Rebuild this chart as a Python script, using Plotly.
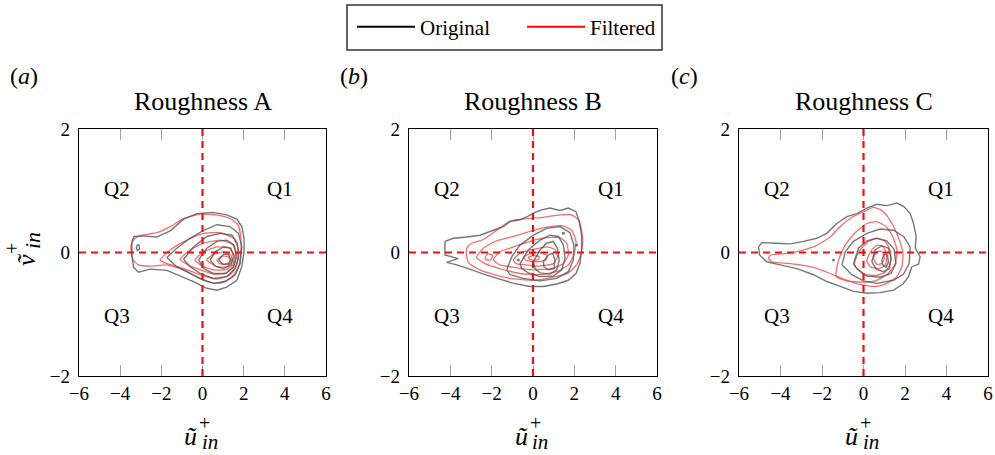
import plotly.graph_objects as go

# ---------------- data ----------------
x_ticks = [-6, -4, -2, 0, 2, 4, 6]
y_ticks = [-2, 0, 2]
panel_titles = ["Roughness A", "Roughness B", "Roughness C"]
panel_letters = ["a", "b", "c"]
series_names = ["Original", "Filtered"]
quadrant_labels = ["Q1", "Q2", "Q3", "Q4"]
quadrant_x = [3.75, -4.15, -4.15, 3.75]
quadrant_y = [1.03, 1.03, -1.03, -1.03]

# Panel A – original contours (x, y)
a_original = [
    [(-3.43, 0.18), (-3.32, 0.26), (-2.95, 0.27), (-2.22, 0.25), (-1.57, 0.35), (-0.92, 0.54),
     (-0.28, 0.63), (0.53, 0.65), (1.18, 0.61), (1.67, 0.54), (1.91, 0.42), (2.02, 0.23),
     (2.02, 0.01), (1.91, -0.23), (1.67, -0.45), (1.18, -0.56), (0.70, -0.61), (0.21, -0.58),
     (-0.44, -0.47), (-1.09, -0.38), (-1.73, -0.29), (-2.54, -0.27), (-3.11, -0.32),
     (-3.35, -0.24), (-3.43, -0.04)],
    [(-1.73, -0.08), (-1.25, 0.07), (-0.60, 0.23), (0.05, 0.36), (0.70, 0.45), (1.34, 0.42),
     (1.75, 0.31), (1.91, 0.09), (1.83, -0.18), (1.59, -0.36), (1.10, -0.47), (0.53, -0.50),
     (0.05, -0.45), (-0.60, -0.34), (-1.25, -0.23)],
    [(-0.92, -0.11), (-0.44, 0.09), (0.21, 0.26), (0.86, 0.31), (1.43, 0.28), (1.70, 0.15),
     (1.75, -0.07), (1.59, -0.26), (1.18, -0.39), (0.53, -0.42), (-0.11, -0.34), (-0.60, -0.23)],
    [(-0.19, -0.12), (0.21, 0.07), (0.70, 0.18), (1.18, 0.20), (1.54, 0.12), (1.64, -0.07),
     (1.51, -0.24), (1.10, -0.34), (0.53, -0.34), (0.05, -0.26)],
    [(0.37, -0.12), (0.62, 0.01), (1.02, 0.09), (1.38, 0.07), (1.51, -0.07), (1.39, -0.20),
     (1.02, -0.26), (0.62, -0.22)],
    [(0.78, -0.12), (1.02, -0.03), (1.26, -0.03), (1.38, -0.12), (1.26, -0.19), (0.99, -0.19)],
    [(-3.22, 0.10), (-3.10, 0.13), (-3.05, 0.06), (-3.17, 0.03)],
]
# Panel A – filtered contours
a_filtered = [
    [(-3.48, 0.12), (-3.27, 0.23), (-2.95, 0.28), (-2.22, 0.32), (-1.57, 0.42), (-0.92, 0.55),
     (-0.11, 0.62), (0.70, 0.61), (1.34, 0.55), (1.72, 0.45), (1.86, 0.26), (1.86, 0.01),
     (1.75, -0.23), (1.43, -0.40), (0.86, -0.50), (0.29, -0.47), (-0.28, -0.39), (-0.92, -0.28),
     (-1.73, -0.20), (-2.54, -0.22), (-3.11, -0.20), (-3.38, -0.12)],
    [(-2.06, -0.12), (-1.57, 0.04), (-0.76, 0.20), (0.05, 0.31), (0.86, 0.32), (1.51, 0.23),
     (1.75, 0.04), (1.67, -0.20), (1.34, -0.36), (0.70, -0.43), (-0.11, -0.36), (-1.09, -0.24),
     (-1.73, -0.18)],
    [(-1.09, -0.11), (-0.60, 0.04), (0.05, 0.15), (0.86, 0.20), (1.43, 0.14), (1.64, -0.01),
     (1.54, -0.20), (1.18, -0.33), (0.53, -0.35), (-0.19, -0.27), (-0.76, -0.19)],
    [(-0.36, -0.12), (0.05, 0.01), (0.70, 0.09), (1.26, 0.08), (1.54, -0.04), (1.47, -0.20),
     (1.10, -0.28), (0.53, -0.28), (-0.03, -0.22)],
    [(0.21, -0.12), (0.53, -0.03), (1.02, 0.01), (1.38, -0.04), (1.43, -0.15), (1.18, -0.23),
     (0.70, -0.23)],
    [(0.70, -0.12), (0.94, -0.06), (1.26, -0.07), (1.34, -0.15), (1.10, -0.19), (0.83, -0.18)],
]

# Panel B – original contours
b_original = [
    [(-4.26, 0.18), (-3.85, 0.23), (-3.21, 0.25), (-2.56, 0.28), (-1.92, 0.36), (-1.44, 0.42),
     (-1.11, 0.50), (-0.63, 0.53), (-0.23, 0.59), (0.10, 0.65), (0.42, 0.69), (0.82, 0.72),
     (1.31, 0.68), (1.71, 0.72), (2.08, 0.66), (2.24, 0.50), (2.35, 0.28), (2.35, 0.04),
     (2.27, -0.18), (2.08, -0.34), (1.71, -0.45), (1.15, -0.51), (0.50, -0.55), (-0.15, -0.55),
     (-0.95, -0.50), (-1.76, -0.42), (-2.40, -0.35), (-3.05, -0.27), (-3.69, -0.20),
     (-4.18, -0.16), (-3.62, -0.10), (-4.26, -0.04)],
    [(-1.27, -0.28), (-1.03, -0.07), (-0.63, 0.12), (0.02, 0.28), (0.66, 0.39), (1.31, 0.42),
     (1.79, 0.32), (1.98, 0.12), (1.95, -0.12), (1.71, -0.31), (1.15, -0.42), (0.34, -0.46),
     (-0.47, -0.42), (-1.11, -0.36)],
    [(-0.63, -0.18), (-0.23, 0.04), (0.34, 0.20), (0.82, 0.28), (1.23, 0.26), (1.47, 0.12),
     (1.55, -0.09), (1.39, -0.28), (0.98, -0.38), (0.34, -0.39), (-0.23, -0.33), (-0.55, -0.26)],
    [(0.02, -0.15), (0.34, 0.04), (0.66, 0.15), (0.98, 0.18), (1.18, 0.07), (1.27, -0.12),
     (1.15, -0.28), (0.82, -0.35), (0.34, -0.33), (0.10, -0.26)],
    [(0.50, -0.15), (0.74, -0.04), (0.95, -0.01), (1.06, -0.12), (1.02, -0.26), (0.74, -0.28),
     (0.53, -0.23)],
]
b_filtered = [
    [(-3.21, 0.07), (-2.97, 0.15), (-2.40, 0.21), (-1.76, 0.36), (-1.11, 0.51), (-0.31, 0.55),
     (0.50, 0.57), (1.31, 0.61), (1.87, 0.61), (2.19, 0.53), (2.35, 0.36), (2.40, 0.15),
     (2.31, -0.04), (2.11, -0.20), (1.71, -0.33), (0.98, -0.40), (0.02, -0.45), (-1.11, -0.42),
     (-2.08, -0.34), (-2.81, -0.24), (-3.13, -0.16), (-3.21, -0.06)],
    [(-2.73, -0.08), (-2.40, 0.07), (-1.76, 0.19), (-0.95, 0.26), (0.02, 0.36), (0.82, 0.42),
     (1.47, 0.43), (1.87, 0.36), (2.08, 0.18), (1.98, -0.04), (1.71, -0.20), (1.15, -0.31),
     (0.34, -0.36), (-0.63, -0.34), (-1.60, -0.26), (-2.32, -0.18)],
    [(-2.32, -0.08), (-2.16, -0.02), (-1.95, -0.05), (-2.05, -0.12), (-2.24, -0.12)],
    [(-1.92, -0.12), (-1.60, 0.01), (-0.95, 0.09), (-0.15, 0.18), (0.66, 0.24), (1.31, 0.24),
     (1.63, 0.15), (1.71, -0.04), (1.47, -0.18), (0.90, -0.26), (0.02, -0.28), (-0.95, -0.24),
     (-1.60, -0.20)],
    [(-0.95, -0.12), (-0.63, -0.01), (0.02, 0.05), (0.66, 0.09), (1.06, 0.05), (1.18, -0.07),
     (0.98, -0.18), (0.34, -0.22), (-0.39, -0.20), (-0.82, -0.18)],
    [(-0.47, -0.08), (-0.15, -0.02), (0.34, 0.00), (0.66, -0.04), (0.63, -0.12), (0.18, -0.15),
     (-0.31, -0.13)],
    [(-0.23, -0.08), (0.02, -0.05), (0.31, -0.07), (0.21, -0.12), (-0.11, -0.12)],
]

# Panel C – original contours
c_original = [
    [(-5.06, 0.09), (-4.90, 0.16), (-4.18, 0.15), (-3.53, 0.14), (-2.89, 0.18), (-2.25, 0.23),
     (-1.77, 0.31), (-1.29, 0.47), (-0.80, 0.58), (-0.32, 0.63), (0.16, 0.72), (0.64, 0.78),
     (1.12, 0.76), (1.61, 0.80), (1.96, 0.74), (2.25, 0.63), (2.41, 0.47), (2.54, 0.26),
     (2.49, 0.07), (2.73, -0.07), (2.65, -0.19), (2.33, -0.23), (2.17, -0.39), (1.90, -0.51),
     (1.45, -0.61), (0.80, -0.65), (0.16, -0.66), (-0.48, -0.63), (-1.12, -0.55), (-1.77, -0.47),
     (-2.41, -0.36), (-3.21, -0.26), (-4.02, -0.20), (-4.66, -0.15), (-5.01, -0.04)],
    [(-1.04, -0.20), (-0.88, 0.01), (-0.48, 0.18), (0.16, 0.31), (0.80, 0.38), (1.45, 0.36),
     (1.93, 0.26), (2.25, 0.09), (2.20, -0.18), (1.93, -0.35), (1.45, -0.45), (0.64, -0.50),
     (0.00, -0.46), (-0.56, -0.36)],
    [(-0.48, -0.18), (-0.24, 0.07), (0.16, 0.19), (0.64, 0.23), (1.12, 0.19), (1.48, 0.05),
     (1.56, -0.18), (1.32, -0.34), (0.80, -0.40), (0.16, -0.38), (-0.29, -0.27)],
    [(0.40, -0.15), (0.56, 0.04), (0.88, 0.11), (1.20, 0.07), (1.33, -0.09), (1.25, -0.26),
     (0.96, -0.31), (0.61, -0.27)],
    [(0.88, -0.12), (1.00, -0.03), (1.16, -0.04), (1.20, -0.16), (1.09, -0.24), (0.93, -0.20)],
]
c_filtered = [
    [(-4.58, -0.09), (-4.47, -0.04), (-3.53, -0.01), (-2.41, 0.09), (-1.61, 0.25), (-1.12, 0.42),
     (-0.56, 0.57), (0.00, 0.66), (0.48, 0.73), (0.84, 0.69), (1.16, 0.58), (1.45, 0.42),
     (1.73, 0.20), (1.90, -0.01), (1.85, -0.23), (1.61, -0.39), (1.12, -0.50), (0.64, -0.55),
     (0.00, -0.53), (-0.80, -0.45), (-1.61, -0.34), (-2.41, -0.24), (-3.53, -0.18), (-4.42, -0.15)],
    [(-1.32, -0.39), (-1.20, -0.12), (-0.88, 0.12), (-0.40, 0.32), (0.16, 0.47), (0.64, 0.50),
     (1.09, 0.42), (1.41, 0.26), (1.61, 0.04), (1.53, -0.18), (1.20, -0.34), (0.64, -0.45),
     (0.00, -0.48), (-0.80, -0.46)],
    [(-0.45, -0.20), (-0.19, 0.03), (0.24, 0.18), (0.64, 0.23), (1.04, 0.18), (1.29, 0.03),
     (1.29, -0.18), (1.04, -0.32), (0.61, -0.37), (0.00, -0.35)],
    [(0.16, -0.13), (0.39, 0.04), (0.67, 0.12), (0.96, 0.09), (1.12, -0.04), (1.06, -0.20),
     (0.74, -0.26), (0.32, -0.23)],
    [(0.48, -0.09), (0.64, 0.01), (0.88, 0.02), (1.01, -0.09), (0.88, -0.18), (0.64, -0.19)],
]

# isolated tiny closed contours drawn as dots (x, y)
b_original_dots = [(1.47, 0.31), (2.11, 0.12), (-0.71, -0.12)]
c_original_dots = [(-1.45, -0.12)]

# ---------------- figure ----------------
W, H = 995, 455
FONT = "Liberation Serif, Times New Roman, serif"
GREY = "rgba(85,85,85,0.8)"
RED = "rgba(240,75,75,0.8)"

# panel frames in pixels (left, right, top, bottom)
frames = [(79, 326, 129, 376), (409, 657, 129, 376), (739, 988, 129, 376)]
legend_box = (347, 662, 5, 50)


def px_x(p):
    return p / W


def px_y(p):
    return 1 - p / H


def text_at(x, y, text, size, angle=0):
    fig.add_annotation(x=px_x(x), y=px_y(y), xref="paper", yref="paper", text=text,
                       showarrow=False, xanchor="center", yanchor="middle", textangle=angle,
                       font=dict(family=FONT, size=size, color="black"))


fig = go.Figure()

panels = [
    (a_original, a_filtered, []),
    (b_original, b_filtered, b_original_dots),
    (c_original, c_filtered, c_original_dots),
]

for i, (orig, filt, dots) in enumerate(panels):
    xa = "x" if i == 0 else f"x{i + 1}"
    ya = "y" if i == 0 else f"y{i + 1}"
    for contour in filt:
        pts = contour + [contour[0]]
        fig.add_trace(go.Scatter(
            x=[p[0] for p in pts], y=[p[1] for p in pts], mode="lines",
            line=dict(color=RED, width=1.3, shape="spline", smoothing=0.5),
            xaxis=xa, yaxis=ya, showlegend=False, hoverinfo="skip"))
    for contour in orig:
        pts = contour + [contour[0]]
        fig.add_trace(go.Scatter(
            x=[p[0] for p in pts], y=[p[1] for p in pts], mode="lines",
            line=dict(color=GREY, width=1.4),
            xaxis=xa, yaxis=ya, showlegend=False, hoverinfo="skip"))
    if dots:
        fig.add_trace(go.Scatter(
            x=[p[0] for p in dots], y=[p[1] for p in dots], mode="markers",
            marker=dict(color=GREY, size=3),
            xaxis=xa, yaxis=ya, showlegend=False, hoverinfo="skip"))
    # quadrant labels
    for lab, qx, qy in zip(quadrant_labels, quadrant_x, quadrant_y):
        fig.add_annotation(x=qx, y=qy, xref=xa, yref=ya, text=lab, showarrow=False,
                           xanchor="center", yanchor="middle",
                           font=dict(family=FONT, size=21, color="black"))
    # dashed quadrant dividers
    fig.add_shape(type="line", xref=f"{xa} domain", yref=ya, x0=0, x1=1, y0=0, y1=0,
                  line=dict(color="#ee1111", width=2.2, dash="7px,5px"), layer="above")
    fig.add_shape(type="line", xref=xa, yref=f"{ya} domain", x0=0, x1=0, y0=0, y1=1,
                  line=dict(color="#ee1111", width=2.2, dash="7px,5px"), layer="above")

# legend entries
for name, col in zip(series_names, ["black", "red"]):
    fig.add_trace(go.Scatter(x=[None], y=[None], mode="lines", name=name,
                             line=dict(color=col, width=2), showlegend=True))

# legend frame
fig.add_shape(type="rect", xref="paper", yref="paper",
              x0=px_x(legend_box[0]), x1=px_x(legend_box[1]),
              y0=px_y(legend_box[3]), y1=px_y(legend_box[2]),
              line=dict(color="#333", width=1.5), fillcolor="rgba(0,0,0,0)", layer="above")

layout = dict(
    template="none",
    width=W, height=H,
    margin=dict(l=0, r=0, t=0, b=0, autoexpand=False),
    paper_bgcolor="white", plot_bgcolor="white",
    font=dict(family=FONT, size=18, color="black"),
    showlegend=True,
    legend=dict(orientation="h", x=px_x(352), y=px_y(27), xanchor="left", yanchor="middle",
                borderwidth=0, bgcolor="rgba(0,0,0,0)",
                font=dict(family=FONT, size=21), entrywidth=97, itemwidth=58,
                tracegroupgap=0),
)

for i, (l, r, t, b) in enumerate(frames):
    sx = "" if i == 0 else str(i + 1)
    layout[f"xaxis{sx}"] = dict(
        domain=[px_x(l), px_x(r)], anchor=f"y{sx}", range=[-6, 6], automargin=False,
        tickvals=x_ticks, ticktext=[f"{v}".replace("-", "\u2212") for v in x_ticks],
        ticks="inside", ticklen=11, tickwidth=1.2, tickcolor="#a0a0a0",
        showline=True, linecolor="black", linewidth=1.3, mirror="ticks",
        showgrid=False, zeroline=False, fixedrange=True,
        tickfont=dict(family=FONT, size=19))
    layout[f"yaxis{sx}"] = dict(
        domain=[px_y(b), px_y(t)], anchor=f"x{sx}", range=[-2, 2], automargin=False,
        tickvals=y_ticks, ticktext=[f"{v}".replace("-", "\u2212") for v in y_ticks],
        ticks="", showline=True, linecolor="black", linewidth=1.3, mirror=True,
        showgrid=False, zeroline=False, fixedrange=True, ticklabelstandoff=4,
        tickfont=dict(family=FONT, size=19))

fig.update_layout(**layout)

# titles, panel letters, axis labels
for i, (l, r, t, b) in enumerate(frames):
    cx = (l + r) / 2
    text_at(cx, 101, panel_titles[i], 26)
    text_at(l - 55, 76, f"(<i>{panel_letters[i]}</i>)", 24)
    # x axis label  ũ+_in
    text_at(cx - 12, 436, "<i>ũ</i>", 26)
    text_at(cx + 7, 442, "<i>in</i>", 21)
    text_at(cx + 2, 423, "+", 20)

# y axis label  ṽ+_in (rotated)
text_at(26, 260, "<i>ṽ</i>", 26, -90)
text_at(32, 241, "<i>in</i>", 22, -90)
text_at(12, 249, "+", 20, -90)

fig.write_html("out.html", config={"displayModeBar": False},
               post_script="document.body.style.margin='0';document.body.style.padding='0';")
